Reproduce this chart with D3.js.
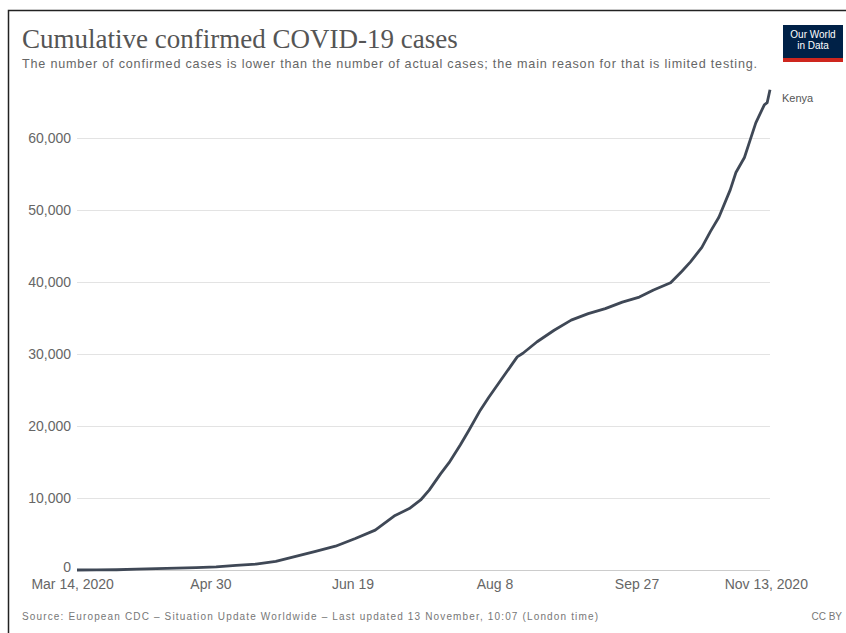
<!DOCTYPE html>
<html><head><meta charset="utf-8">
<script src="https://cdn.jsdelivr.net/npm/d3@7"></script>
<style>body{margin:0;background:#fff}svg{display:block}</style>
</head><body>
<script>
const title = "Cumulative confirmed COVID-19 cases";
const subtitle = "The number of confirmed cases is lower than the number of actual cases; the main reason for that is limited testing.";
const source = "Source: European CDC – Situation Update Worldwide – Last updated 13 November, 10:07 (London time)";
const seriesName = "Kenya";
const dates = ["2020-03-14","2020-03-21","2020-03-28","2020-04-04","2020-04-11","2020-04-18","2020-04-25","2020-05-02","2020-05-09","2020-05-16","2020-05-23","2020-05-30","2020-06-06","2020-06-13","2020-06-20","2020-06-27","2020-07-04","2020-07-09","2020-07-13","2020-07-16","2020-07-20","2020-07-23","2020-07-27","2020-07-30","2020-08-03","2020-08-06","2020-08-11","2020-08-16","2020-08-18","2020-08-23","2020-08-29","2020-09-04","2020-09-10","2020-09-16","2020-09-22","2020-09-28","2020-10-03","2020-10-09","2020-10-13","2020-10-16","2020-10-20","2020-10-23","2020-10-26","2020-10-30","2020-11-01","2020-11-04","2020-11-06","2020-11-08","2020-11-11","2020-11-12","2020-11-13"];
const cases = [1,7,38,126,191,262,343,435,649,830,1192,1888,2600,3305,4374,5533,7577,8528,9726,11100,13353,14900,17400,19400,22200,24000,26800,29600,30100,31700,33300,34700,35600,36300,37200,37900,38900,39900,41500,42800,44800,47000,49000,52800,55200,57300,59700,62100,64600,64900,66700];
const yTicks = [0,10000,20000,30000,40000,50000,60000];
const xTickDates = ["2020-03-14","2020-04-30","2020-06-19","2020-08-08","2020-09-27","2020-11-13"];
const xTickLabels = ["Mar 14, 2020","Apr 30","Jun 19","Aug 8","Sep 27","Nov 13, 2020"];

const W = 846, H = 633;
const parse = d3.utcParse("%Y-%m-%d");
const data = dates.map((d,i)=>({date: parse(d), v: cases[i]}));

const svg = d3.select("body").append("svg").attr("width", W).attr("height", H);
svg.append("rect").attr("width", W).attr("height", H).attr("fill", "#fff");

// frame
svg.append("path").attr("d", `M8.5,${H} V10.5 H${W}`).attr("fill","none").attr("stroke","#222").attr("stroke-width",1.5);

const x = d3.scaleUtc().domain([parse(dates[0]), parse(dates[dates.length-1])]).range([77, 770]);
const y = d3.scaleLinear().domain([0, 60000]).range([570, 138]);

// title
svg.append("text").attr("x", 22).attr("y", 48).text(title)
  .attr("font-family","'Liberation Serif','Times New Roman',serif").attr("font-size",27).attr("fill","#555");
svg.append("text").attr("x", 22).attr("y", 68).text(subtitle)
  .attr("font-family","'Liberation Sans',Arial,sans-serif").attr("font-size",12.6).attr("fill","#666")
  .attr("textLength", 735).attr("lengthAdjust","spacing");

// logo
const logo = svg.append("g").attr("transform","translate(783,25)");
logo.append("rect").attr("width",60).attr("height",37).attr("fill","#002147");
logo.append("rect").attr("y",33).attr("width",60).attr("height",4).attr("fill","#ce261e");
logo.append("text").attr("x",30).attr("y",13).attr("text-anchor","middle").text("Our World")
  .attr("font-family","'Liberation Sans',Arial,sans-serif").attr("font-size",10).attr("fill","#fff");
logo.append("text").attr("x",30).attr("y",24).attr("text-anchor","middle").text("in Data")
  .attr("font-family","'Liberation Sans',Arial,sans-serif").attr("font-size",10).attr("fill","#fff");

// y grid + labels
const yAxis = d3.axisLeft(y).tickValues(yTicks).tickFormat(d3.format(",")).tickSize(-(770-77)).tickPadding(6);
const gy = svg.append("g").attr("transform","translate(77,0)").call(yAxis);
gy.select(".domain").remove();
gy.selectAll(".tick line").attr("stroke","#e3e3e3").attr("stroke-width",1);
gy.selectAll(".tick text").attr("font-family","'Liberation Sans',Arial,sans-serif").attr("font-size",14).attr("fill","#666").attr("x",-6);
gy.selectAll(".tick").filter(d=>d===0).select("text").attr("dy","0.1em");

// baseline
svg.append("line").attr("x1",77).attr("x2",770).attr("y1",570.5).attr("y2",570.5).attr("stroke","#ccc");

// x axis
const xAxis = d3.axisBottom(x).tickValues(xTickDates.map(parse)).tickFormat((d,i)=>xTickLabels[i]).tickSize(0).tickPadding(9);
const gx = svg.append("g").attr("transform","translate(0,570)").call(xAxis);
gx.select(".domain").remove();
gx.selectAll(".tick text").attr("font-family","'Liberation Sans',Arial,sans-serif").attr("font-size",14).attr("fill","#666");
gx.selectAll(".tick").filter((d,i)=>i===0).select("text").attr("text-anchor","end").attr("dx","2.6em");
gx.selectAll(".tick").filter((d,i)=>i===xTickLabels.length-1).select("text").attr("dx","-0.3em");

// line
const line = d3.line().x(d=>x(d.date)).y(d=>y(d.v));
svg.append("path").datum(data).attr("d", line).attr("fill","none").attr("stroke","#3f4856").attr("stroke-width",2.8).attr("stroke-linejoin","round");

// label
const last = data[data.length-1];
svg.append("text").attr("x", x(last.date)+12).attr("y", y(last.v)+12).text(seriesName)
  .attr("font-family","'Liberation Sans',Arial,sans-serif").attr("font-size",11).attr("fill","#555");

// footer
svg.append("text").attr("x",22).attr("y",620).text(source)
  .attr("font-family","'Liberation Sans',Arial,sans-serif").attr("font-size",10).attr("fill","#777")
  .attr("textLength", 576).attr("lengthAdjust","spacing");
svg.append("text").attr("x",842).attr("y",620).attr("text-anchor","end").text("CC BY")
  .attr("font-family","'Liberation Sans',Arial,sans-serif").attr("font-size",10).attr("fill","#777");
</script>
</body></html>
